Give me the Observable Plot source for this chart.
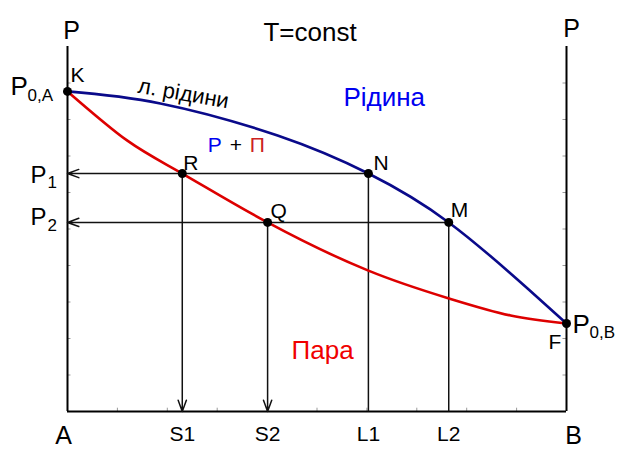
<!DOCTYPE html>
<html>
<head>
<meta charset="utf-8">
<script src="https://cdn.jsdelivr.net/npm/d3@7"></script>
<script src="https://cdn.jsdelivr.net/npm/@observablehq/plot@0.6"></script>
<style>
  html, body { margin: 0; padding: 0; background: #fff; }
</style>
</head>
<body>
<div id="chart"></div>
<script>
// Liquid line (blue): composition x vs pressure
const liquidX = [0, 0.186, 0.421, 0.603, 0.764, 0.922, 1.0];
const liquidP = [0.877, 0.844, 0.756, 0.652, 0.518, 0.337, 0.241];
// Vapour line (red)
const vaporX = [0, 0.120, 0.230, 0.401, 0.603, 0.764, 0.888, 1.0];
const vaporP = [0.877, 0.742, 0.652, 0.518, 0.386, 0.310, 0.263, 0.241];
// Key pressures and compositions
const P0A = 0.877, P0B = 0.241, P1 = 0.652, P2 = 0.518;
const xS1 = 0.230, xS2 = 0.401, xL1 = 0.603, xL2 = 0.764;
// Bottom tick labels
const bottomLabels = ["S1", "S2", "L1", "L2"];
const bottomX = [xS1, xS2, xL1, xL2];
// Minor ticks
const minorX = [0.1, 0.2, 0.3, 0.4, 0.5, 0.6, 0.7, 0.8, 0.9];
const minorY = [0.1, 0.2, 0.3, 0.4, 0.5, 0.6, 0.7, 0.8, 0.9];

const liquid = liquidX.map((x, i) => ({x, y: liquidP[i]}));
const vapor = vaporX.map((x, i) => ({x, y: vaporP[i]}));

const pts = {
  K: {x: 0, y: P0A}, F: {x: 1, y: P0B},
  R: {x: xS1, y: P1}, N: {x: xL1, y: P1},
  Q: {x: xS2, y: P2}, M: {x: xL2, y: P2}
};

const FONT = "'Liberation Sans', Arial, Helvetica, sans-serif";
const T = (d, opts) => Plot.text([d], {x: "x", y: "y", lineAnchor: "bottom", fontFamily: FONT, ...opts});

const pointLabels = [
  ["K", 3, -9], ["R", 1, -4], ["Q", 3, -4], ["N", 5, -4], ["M", 2, -5], ["F", -18, 25]
];

const marks = [
  // minor ticks
  Plot.ruleX(minorX, {x: d => d, y1: 0, y2: 0.009, stroke: "#999", strokeWidth: 1}),
  Plot.ruleY(minorY, {y: d => d, x1: 0, x2: 0.007, stroke: "#999", strokeWidth: 1}),
  Plot.ruleY(minorY, {y: d => d, x1: 0.993, x2: 1, stroke: "#999", strokeWidth: 1}),
  // frame axes
  Plot.ruleX([0, 1], {y1: 0, y2: 1, stroke: "#000", strokeWidth: 2}),
  Plot.ruleY([0], {x1: 0, x2: 1, stroke: "#000", strokeWidth: 2}),
  // arrows / construction lines
  Plot.arrow([{x1: xL1, x2: 0, y: P1}, {x1: xL2, x2: 0, y: P2}],
    {x1: "x1", x2: "x2", y1: "y", y2: "y", stroke: "#111", strokeWidth: 1.5, headLength: 12, headAngle: 40}),
  Plot.arrow([{x: xS1, y: P1}, {x: xS2, y: P2}],
    {x1: "x", x2: "x", y1: "y", y2: () => 0, stroke: "#111", strokeWidth: 1.5, headLength: 12, headAngle: 40}),
  Plot.link([{x: xL1, y: P1}, {x: xL2, y: P2}],
    {x1: "x", x2: "x", y1: "y", y2: () => 0, stroke: "#111", strokeWidth: 1.5}),
  // curves
  Plot.line(vapor, {x: "x", y: "y", stroke: "#dd0000", strokeWidth: 2.6, curve: "natural"}),
  Plot.line(liquid, {x: "x", y: "y", stroke: "#0a0a8a", strokeWidth: 2.6, curve: "natural"}),
  // points
  Plot.dot(Object.values(pts), {x: "x", y: "y", r: 4.5, fill: "#000", stroke: "none"}),
  // point labels
  ...pointLabels.map(([n, dx, dy]) => T(pts[n], {text: () => n, textAnchor: "start", dx, dy, fontSize: 21, fill: "#000"})),
  // pressure labels left
  T({x: 0, y: P0A}, {text: () => "P", textAnchor: "start", dx: -57, dy: 4, fontSize: 26}),
  T({x: 0, y: P0A}, {text: () => "0,A", textAnchor: "start", dx: -40, dy: 10, fontSize: 17}),
  T({x: 0, y: P1}, {text: () => "P", textAnchor: "start", dx: -37, dy: 9, fontSize: 24}),
  T({x: 0, y: P1}, {text: () => "1", textAnchor: "start", dx: -20, dy: 14, fontSize: 17}),
  T({x: 0, y: P2}, {text: () => "P", textAnchor: "start", dx: -37, dy: 3, fontSize: 24}),
  T({x: 0, y: P2}, {text: () => "2", textAnchor: "start", dx: -20, dy: 9, fontSize: 17}),
  // right pressure label
  T({x: 1, y: P0B}, {text: () => "P", textAnchor: "start", dx: 6, dy: 9, fontSize: 26}),
  T({x: 1, y: P0B}, {text: () => "0,B", textAnchor: "start", dx: 23, dy: 14, fontSize: 17}),
  // axis top labels
  T({x: 0, y: 1}, {text: () => "P", textAnchor: "middle", dx: 4, dy: -8, fontSize: 25}),
  T({x: 1, y: 1}, {text: () => "P", textAnchor: "middle", dx: 5, dy: -10, fontSize: 25}),
  T({x: 0.486, y: 1}, {text: () => "T=const", textAnchor: "middle", dy: -6, fontSize: 26}),
  // bottom labels
  T({x: 0, y: 0}, {text: () => "A", textAnchor: "middle", dx: -4, dy: 32, fontSize: 25}),
  T({x: 1, y: 0}, {text: () => "B", textAnchor: "middle", dx: 7, dy: 32, fontSize: 25}),
  Plot.text(bottomLabels, {x: (d, i) => bottomX[i], y: () => 0, text: d => d, lineAnchor: "bottom", textAnchor: "middle", dy: 29, fontSize: 21, fontFamily: FONT}),
  // region labels
  T({x: 0.553, y: 0.838}, {text: () => "Рідина", textAnchor: "start", fontSize: 26, fill: "#0000f0"}),
  T({x: 0.449, y: 0.145}, {text: () => "Пара", textAnchor: "start", fontSize: 26, fill: "#f00000"}),
  T({x: 0.281, y: 0.712}, {text: () => "P", textAnchor: "start", fontSize: 21, fill: "#0000f0"}),
  T({x: 0.281, y: 0.712}, {text: () => "+", textAnchor: "start", dx: 22, fontSize: 21, fill: "#000"}),
  T({x: 0.281, y: 0.712}, {text: () => "П", textAnchor: "start", dx: 42, fontSize: 21, fill: "#cc2222"}),
  T({x: 0.230, y: 0.852}, {text: () => "л. рідини", textAnchor: "middle", rotate: 10, fontSize: 22, fill: "#000"})
];

const chart = Plot.plot({
  width: 617,
  height: 449,
  marginLeft: 67,
  marginRight: 51,
  marginTop: 46,
  marginBottom: 38,
  x: {domain: [0, 1], axis: null},
  y: {domain: [0, 1], axis: null},
  style: {fontFamily: FONT, background: "#fff", overflow: "visible", color: "#000"},
  marks
});
document.getElementById("chart").appendChild(chart);
</script>
</body>
</html>
